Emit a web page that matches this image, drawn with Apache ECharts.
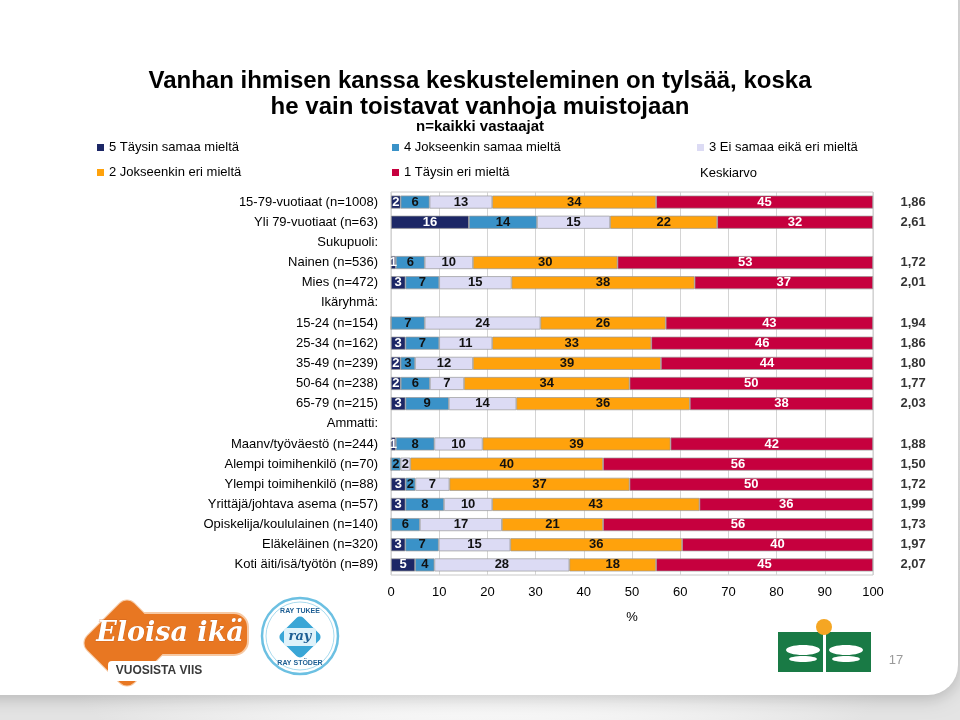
<!DOCTYPE html>
<html><head><meta charset="utf-8">
<script src="https://cdn.jsdelivr.net/npm/echarts@6/dist/echarts.min.js"></script>
<style>html,body{margin:0;padding:0;background:#fff}#c{width:960px;height:720px}</style>
</head><body><div id="c"></div>
<script>
const categories = [
  '15-79-vuotiaat (n=1008)','Yli 79-vuotiaat (n=63)','Sukupuoli:','Nainen (n=536)','Mies (n=472)',
  'Ikäryhmä:','15-24 (n=154)','25-34 (n=162)','35-49 (n=239)','50-64 (n=238)','65-79 (n=215)',
  'Ammatti:','Maanv/työväestö (n=244)','Alempi toimihenkilö (n=70)','Ylempi toimihenkilö (n=88)',
  'Yrittäjä/johtava asema (n=57)','Opiskelija/koululainen (n=140)','Eläkeläinen (n=320)','Koti äiti/isä/työtön (n=89)'
];
const s5 = [2,16,null,1,3,null,0,3,2,2,3,null,1,0,3,3,0,3,5];
const s4 = [6,14,null,6,7,null,7,7,3,6,9,null,8,2,2,8,6,7,4];
const s3 = [13,15,null,10,15,null,24,11,12,7,14,null,10,2,7,10,17,15,28];
const s2 = [34,22,null,30,38,null,26,33,39,34,36,null,39,40,37,43,21,36,18];
const s1 = [45,32,null,53,37,null,43,46,44,50,38,null,42,56,50,36,56,40,45];
const means = [1.86,2.61,null,1.72,2.01,null,1.94,1.86,1.80,1.77,2.03,null,1.88,1.50,1.72,1.99,1.73,1.97,2.07];
const xTicks = [0,10,20,30,40,50,60,70,80,90,100];

const names = ['5 Täysin samaa mieltä','4 Jokseenkin samaa mieltä','3 Ei samaa eikä eri mieltä','2 Jokseenkin eri mieltä','1 Täysin eri mieltä'];
const colors = ['#1c2766','#3a92c8','#dcdbf4','#ffa20c','#c6003e'];
const labelColors = ['#fff','#111','#111','#111','#fff'];
const FONT = 'Liberation Sans, Arial, sans-serif';

const allSeries = [s5,s4,s3,s2,s1];
// 100 % stacked: each row is scaled to its own total, labels show the read values
const totals = categories.map((c,i)=> allSeries.reduce((a,arr)=> a + (arr[i]||0), 0));

const barSeries = allSeries.map((arr,k)=>({
  name: names[k], type:'bar', stack:'all', barWidth:13,
  data: arr.map((v,i)=> v==null ? '-' : {value: totals[i] ? v/totals[i]*100 : 0, raw: v}),
  itemStyle:{color:colors[k], borderColor:'#9a9a9a', borderWidth:0.7},
  label:{show:true, position:'inside', color:labelColors[k], fontFamily:FONT, fontWeight:'bold', fontSize:13,
    formatter: p => (p.data && p.data.raw>0) ? String(p.data.raw) : ''},
  emphasis:{disabled:true}
}));

const meanSeries = {
  name:'Keskiarvo', type:'scatter', symbolSize:1, itemStyle:{color:'rgba(0,0,0,0)'},
  data: means.map((m,i)=> m==null ? null : {value:[100, categories[i]], m:m}),
  label:{show:true, position:'right', distance:27, color:'#000', fontFamily:FONT, fontWeight:'bold', fontSize:13,
    formatter: p => p.data.m.toFixed(2).replace('.',',')},
  silent:true
};

const chart = echarts.init(document.getElementById('c'));
const legendText = {fontSize:13, color:'#000', fontFamily:FONT};
const legendCommon = {orient:'vertical', top:136, icon:'rect', itemWidth:7, itemHeight:7, itemGap:12, textStyle:legendText, selectedMode:false, itemStyle:{borderWidth:0}};
chart.setOption({
  animation:false,
  textStyle:{fontFamily:FONT},
  title:[
    {text:'Vanhan ihmisen kanssa keskusteleminen on tylsää, koska\nhe vain toistavat vanhoja muistojaan', left:'center', top:63,
     textStyle:{fontFamily:FONT, fontWeight:'bold', fontSize:24, lineHeight:26, color:'#000'}},
    {text:'n=kaikki vastaajat', left:'center', top:114, textStyle:{fontFamily:FONT, fontWeight:'bold', fontSize:15, color:'#000'}}
  ],
  legend:[
    Object.assign({data:[names[0],names[3]], left:92}, legendCommon),
    Object.assign({data:[names[1],names[4]], left:387}, legendCommon),
    Object.assign({data:[names[2]], left:692}, legendCommon),
    {data:['Keskiarvo'], left:690, top:162, itemWidth:0, itemHeight:0, textStyle:legendText, selectedMode:false}
  ],
  grid:{left:391, right:87, top:192, bottom:145, show:true, borderColor:'#c8c8c8', borderWidth:1, backgroundColor:'transparent'},
  xAxis:{type:'value', min:0, max:100, interval:10,
    axisLabel:{color:'#000', fontSize:13, margin:11, fontFamily:FONT, formatter: v => xTicks.includes(v) ? String(v) : ''},
    axisLine:{show:false}, axisTick:{show:false},
    splitLine:{lineStyle:{color:'#d4d4d4', width:1}},
    name:'%', nameLocation:'middle', nameGap:36, nameTextStyle:{color:'#000', fontSize:13, fontFamily:FONT}},
  yAxis:{type:'category', data:categories, inverse:true,
    axisLabel:{color:'#000', fontSize:13, margin:13, fontFamily:FONT},
    axisLine:{show:false}, axisTick:{show:false}, splitLine:{show:false}},
  series:[...barSeries, meanSeries],
  graphic:[
    {type:'rect', z:-100, silent:true, shape:{x:0,y:0,width:960,height:720},
     style:{fill:{type:'radial', x:0.5, y:0.4, r:0.8, colorStops:[{offset:0,color:'#ffffff'},{offset:0.7,color:'#fafafa'},{offset:1,color:'#e4e4e4'}]}}},
    {type:'rect', z:-90, silent:true, shape:{x:-20,y:-20,width:978,height:715,r:[0,0,30,0]},
     style:{fill:'#ffffff', shadowBlur:18, shadowColor:'rgba(0,0,0,0.22)', shadowOffsetY:3}},
    // Eloisa ikä logo
    {type:'rect', silent:true, shape:{x:-33,y:-33,width:66,height:66,r:10}, x:127, y:643, rotation:Math.PI/4,
     style:{fill:'#e87722', stroke:'#f6c9a4', lineWidth:2}},
    {type:'rect', silent:true, shape:{x:110,y:613,width:138,height:42,r:14},
     style:{fill:'#e87722', stroke:'#f6c9a4', lineWidth:2}},
    {type:'rect', silent:true, shape:{x:-33,y:-33,width:66,height:66,r:10}, x:127, y:643, rotation:Math.PI/4,
     style:{fill:'#e87722'}},
    {type:'rect', silent:true, shape:{x:108,y:661,width:104,height:20,r:4}, style:{fill:'#ffffff'}},
    {type:'text', silent:true, x:170, y:634, style:{text:'Eloisa ikä', fill:'#fff', font:'italic bold 27px "DejaVu Serif", serif', align:'center', verticalAlign:'middle', stroke:'#b8561a', lineWidth:0.5}},
    {type:'text', silent:true, x:159, y:671, style:{text:'VUOSISTA VIIS', fill:'#3a3a3a', font:'bold 12px "Liberation Sans", Arial', align:'center', verticalAlign:'middle'}},
    // RAY logo
    {type:'circle', silent:true, shape:{cx:300, cy:636, r:38}, style:{fill:'#fff', stroke:'#6cc0e2', lineWidth:2.5}},
    {type:'circle', silent:true, shape:{cx:300, cy:636, r:34}, style:{fill:'none', stroke:'#a9dbef', lineWidth:1}},
    {type:'rect', silent:true, shape:{x:-16,y:-16,width:32,height:32,r:5}, x:300, y:637, rotation:Math.PI/4, style:{fill:'#3aa6d6'}},
    {type:'rect', silent:true, shape:{x:284,y:628,width:32,height:18,r:3}, style:{fill:'#dff2fa'}},
    {type:'text', silent:true, x:300, y:637, style:{text:'ray', fill:'#1d5e93', font:'italic bold 13px "DejaVu Serif", serif', align:'center', verticalAlign:'middle'}},
    {type:'text', silent:true, x:300, y:611, style:{text:'RAY TUKEE', fill:'#1d5e93', font:'bold 7px "Liberation Sans", Arial', align:'center', verticalAlign:'middle'}},
    {type:'text', silent:true, x:300, y:663, style:{text:'RAY STÖDER', fill:'#1d5e93', font:'bold 7px "Liberation Sans", Arial', align:'center', verticalAlign:'middle'}},
    // green logo
    {type:'rect', silent:true, shape:{x:778,y:632,width:93,height:40}, style:{fill:'#197a45'}},
    {type:'rect', silent:true, shape:{x:823,y:632,width:3,height:40}, style:{fill:'#ffffff'}},
    {type:'circle', silent:true, shape:{cx:824, cy:627, r:8}, style:{fill:'#f5a623'}},
    {type:'ellipse', silent:true, shape:{cx:803, cy:650, rx:17, ry:5}, style:{fill:'#ffffff'}},
    {type:'ellipse', silent:true, shape:{cx:846, cy:650, rx:17, ry:5}, style:{fill:'#ffffff'}},
    {type:'ellipse', silent:true, shape:{cx:803, cy:659, rx:14, ry:3}, style:{fill:'#ffffff'}},
    {type:'ellipse', silent:true, shape:{cx:846, cy:659, rx:14, ry:3}, style:{fill:'#ffffff'}},
    {type:'text', silent:true, x:896, y:660, style:{text:'17', fill:'#9a9a9a', font:'13px "Liberation Sans", Arial', align:'center', verticalAlign:'middle'}}
  ]
});
</script></body></html>
